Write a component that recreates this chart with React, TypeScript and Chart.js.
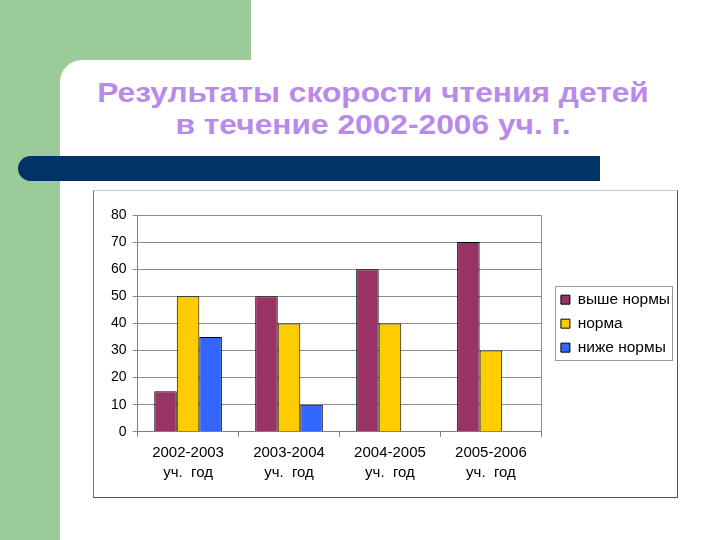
import React, { useEffect, useRef } from "react";
import { Chart, registerables } from "chart.js";

Chart.register(...registerables);

const categories: string[][] = [
  ["2002-2003", "уч.  год"],
  ["2003-2004", "уч.  год"],
  ["2004-2005", "уч.  год"],
  ["2005-2006", "уч.  год"],
];
const seriesNames = ["выше нормы", "норма", "ниже нормы"];
const aboveNorm = [15, 50, 60, 70];
const norm = [50, 40, 40, 30];
const belowNorm: (number | null)[] = [35, 10, null, null];
const yTicks = { min: 0, max: 80, step: 10 };
const titleLines = ["Результаты скорости чтения детей", "в течение 2002-2006 уч. г."];

const colors = ["#993366", "#FFCC00", "#3366FF"];
const FONT = "Arial, 'Liberation Sans', sans-serif";

const framePlugin = {
  id: "frame",
  afterLayout(chart: any) {
    if (chart.legend) {
      chart.legend.left += 11;
      chart.legend.right += 11;
    }
  },
  beforeDatasetsDraw(chart: any) {
    const { ctx, chartArea } = chart;
    ctx.save();
    ctx.strokeStyle = "#8c8c8c";
    ctx.lineWidth = 1;
    ctx.beginPath();
    ctx.moveTo(Math.round(chartArea.left) + 0.5, Math.round(chartArea.top) + 0.5);
    ctx.lineTo(Math.round(chartArea.right) + 0.5, Math.round(chartArea.top) + 0.5);
    ctx.lineTo(Math.round(chartArea.right) + 0.5, Math.round(chartArea.bottom) + 0.5);
    ctx.stroke();
    ctx.restore();
  },
  afterDraw(chart: any) {
    const lg = chart.legend;
    if (!lg || !lg.legendHitBoxes || !lg.legendHitBoxes.length) return;
    const boxes = lg.legendHitBoxes;
    let x0 = Infinity, y0 = Infinity, x1 = -Infinity, y1 = -Infinity;
    for (const b of boxes) {
      x0 = Math.min(x0, b.left);
      y0 = Math.min(y0, b.top);
      x1 = Math.max(x1, b.left + b.width);
      y1 = Math.max(y1, b.top + b.height);
    }
    const { ctx } = chart;
    ctx.save();
    ctx.strokeStyle = "#9a9a9a";
    ctx.lineWidth = 1;
    ctx.strokeRect(Math.round(x0 - 6) + 0.5, Math.round(y0 - 6) + 0.5, Math.round(x1 - x0 + 8), Math.round(y1 - y0 + 10));
    ctx.restore();
  },
};

export default function App() {
  const ref = useRef<HTMLCanvasElement | null>(null);

  useEffect(() => {
    if (!ref.current) return;
    const chart = new Chart(ref.current, {
      type: "bar",
      data: {
        labels: categories,
        datasets: [
          { label: seriesNames[0], data: aboveNorm, backgroundColor: colors[0] },
          { label: seriesNames[1], data: norm, backgroundColor: colors[1] },
          { label: seriesNames[2], data: belowNorm, backgroundColor: colors[2] },
        ].map((d) => ({ ...d, borderColor: "#000", borderWidth: 1, borderSkipped: "bottom" as const })),
      },
      options: {
        animation: false,
        responsive: true,
        maintainAspectRatio: false,
        datasets: { bar: { categoryPercentage: 0.67, barPercentage: 1 } },
        layout: { padding: { top: 24, right: 8, left: 11, bottom: 8 } },
        plugins: {
          title: { display: false },
          tooltip: { enabled: false },
          legend: {
            position: "right",
            align: "start",
            title: { display: true, text: "", padding: { top: 0, bottom: 54 }, font: { size: 12, family: FONT } },
            labels: {
              boxWidth: 9,
              boxHeight: 9,
              padding: 8.5,
              color: "#000",
              font: { family: FONT, size: 15.5 },
            },
          },
        },
        scales: {
          x: {
            grid: { offset: true, drawOnChartArea: false, drawTicks: true, tickLength: 5, color: "#808080" },
            border: { color: "#808080" },
            ticks: {
              color: "#000",
              padding: 6,
              font: { family: FONT, size: 15, lineHeight: 1.34 },
              maxRotation: 0,
            },
          },
          y: {
            min: yTicks.min,
            max: yTicks.max,
            grid: { color: "#8c8c8c", tickLength: 5 },
            border: { color: "#808080" },
            ticks: {
              stepSize: yTicks.step,
              color: "#000",
              padding: 6,
              font: { family: FONT, size: 14 },
            },
          },
        },
      },
      plugins: [framePlugin],
    });
    return () => chart.destroy();
  }, []);

  return (
    <div style={{ position: "fixed", left: 0, top: 0, width: 720, height: 540, background: "#fff", overflow: "hidden" }}>
      <div style={{ position: "absolute", left: 0, top: 0, width: 60, height: 540, background: "#9ccb9a" }} />
      <div style={{ position: "absolute", left: 0, top: 0, width: 251, height: 60, background: "#9ccb9a" }} />
      <div style={{ position: "absolute", left: 60, top: 60, width: 40, height: 40, background: "#9ccb9a" }} />
      <div style={{ position: "absolute", left: 60, top: 60, width: 660, height: 480, background: "#fff", borderTopLeftRadius: 22 }} />
      <div
        style={{
          position: "absolute",
          left: 60,
          top: 77,
          width: 626,
          textAlign: "center",
          fontFamily: FONT,
          fontWeight: "bold",
          fontSize: 28,
          lineHeight: "32px",
          color: "#b98ae9",
          transform: "scaleX(1.133)",
          transformOrigin: "313px 0",
        }}
      >
        {titleLines.map((t, i) => (
          <div key={i}>{t}</div>
        ))}
      </div>
      <div style={{ position: "absolute", left: 18, top: 156, width: 582, height: 25, background: "#003366", borderTopLeftRadius: 12.5, borderBottomLeftRadius: 12.5 }} />
      <div
        style={{
          position: "absolute",
          left: 93,
          top: 190,
          width: 585,
          height: 308,
          boxSizing: "border-box",
          borderTop: "1px solid #c8c8c8",
          borderLeft: "1px solid #777",
          borderRight: "1px solid #555",
          borderBottom: "1px solid #555",
          background: "#fff",
        }}
      >
        <div style={{ position: "relative", width: 583, height: 306 }}>
          <canvas ref={ref} />
        </div>
      </div>
    </div>
  );
}
